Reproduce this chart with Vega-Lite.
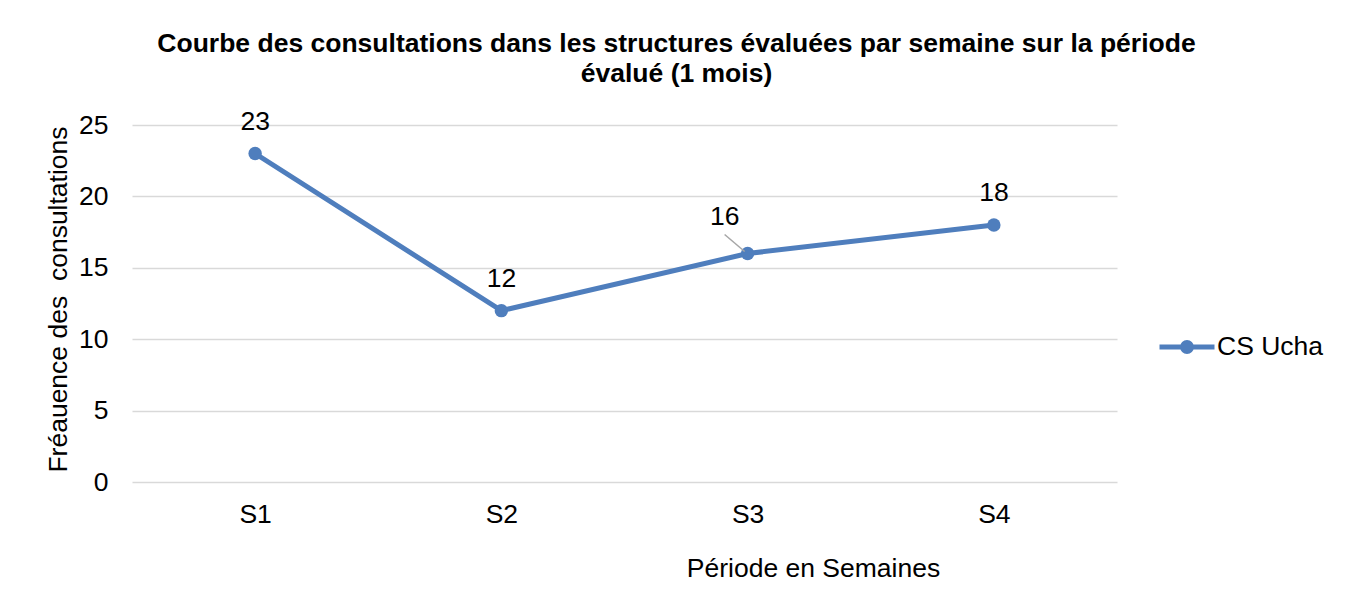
{
  "$schema": "https://vega.github.io/schema/vega-lite/v6.json",
  "autosize": {"type": "none"},
  "padding": {"left": 132, "top": 125, "right": 230, "bottom": 113},
  "width": 985,
  "height": 357,
  "background": "white",
  "config": {
    "font": "Liberation Sans",
    "view": {"stroke": null}
  },
  "title": {
    "text": ["Courbe des consultations dans les structures évaluées par semaine sur la période", "évalué (1 mois)"],
    "fontSize": 26.5,
    "fontWeight": "bold",
    "color": "#000000",
    "anchor": "middle",
    "dx": 52,
    "lineHeight": 30,
    "offset": 21
  },
  "data": {
    "values": [
      {"semaine": "S1", "valeur": 23, "serie": "CS Ucha"},
      {"semaine": "S2", "valeur": 12, "serie": "CS Ucha"},
      {"semaine": "S3", "valeur": 16, "serie": "CS Ucha"},
      {"semaine": "S4", "valeur": 18, "serie": "CS Ucha"}
    ]
  },
  "encoding": {
    "x": {
      "field": "semaine",
      "type": "nominal",
      "sort": null,
      "scale": {"type": "point", "padding": 0.5},
      "axis": {
        "title": "Période en Semaines",
        "titleFontSize": 26.5,
        "titleFontWeight": "normal",
        "titleColor": "#000000",
        "titleX": 681,
        "titleY": 86,
        "titleBaseline": "middle",
        "labelAngle": 0,
        "labelFontSize": 26.5,
        "labelColor": "#000000",
        "labelPadding": 19,
        "ticks": false,
        "domain": false,
        "grid": false
      }
    },
    "y": {
      "field": "valeur",
      "type": "quantitative",
      "scale": {"domain": [0, 25], "nice": false},
      "axis": {
        "title": "Fréauence des\u00a0\u00a0consultations",
        "titleFontSize": 26.5,
        "titleFontWeight": "normal",
        "titleColor": "#000000",
        "titleX": -74,
        "titleY": 174,
        "titleAlign": "center",
        "titleBaseline": "middle",
        "values": [0, 5, 10, 15, 20, 25],
        "labelFontSize": 26.5,
        "labelColor": "#000000",
        "labelPadding": 24,
        "ticks": false,
        "domain": false,
        "grid": true,
        "gridColor": "#d9d9d9",
        "gridWidth": 1.5
      }
    }
  },
  "layer": [
    {
      "mark": {"type": "line", "strokeWidth": 5, "strokeCap": "round"},
      "encoding": {
        "color": {
          "field": "serie",
          "type": "nominal",
          "scale": {"range": ["#4F7EBD"]},
          "legend": {
            "title": null,
            "orient": "none",
            "legendX": 1025,
            "legendY": 192,
            "padding": 0,
            "symbolType": "M-1,0L1,0M-0.16,0a0.16,0.16 0 1,0 0.32,0a0.16,0.16 0 1,0 -0.32,0",
            "symbolSize": 3025,
            "symbolStrokeWidth": 5,
            "symbolFillColor": "#4F7EBD",
            "labelFontSize": 26.5,
            "labelColor": "#000000",
            "labelOffset": 0
          }
        }
      }
    },
    {
      "mark": {"type": "point", "filled": true, "opacity": 1, "size": 180, "color": "#4F7EBD", "shape": "circle"}
    },
    {
      "transform": [{"filter": "datum.semaine !== 'S3'"}],
      "mark": {"type": "text", "fontSize": 26.5, "color": "#000000", "dy": -32, "baseline": "middle"},
      "encoding": {"text": {"field": "valeur", "type": "quantitative"}}
    },
    {
      "transform": [{"filter": "datum.semaine === 'S3'"}],
      "mark": {"type": "text", "fontSize": 26.5, "color": "#000000", "dx": -23, "dy": -37, "baseline": "middle"},
      "encoding": {"text": {"field": "valeur", "type": "quantitative"}}
    },
    {
      "transform": [{"filter": "datum.semaine === 'S3'"}],
      "mark": {"type": "rule", "color": "#a6a6a6", "strokeWidth": 1.5, "xOffset": -3, "yOffset": -2, "x2Offset": -23, "y2Offset": -19},
      "encoding": {
        "x2": {"field": "semaine"},
        "y2": {"field": "valeur"}
      }
    }
  ]
}
